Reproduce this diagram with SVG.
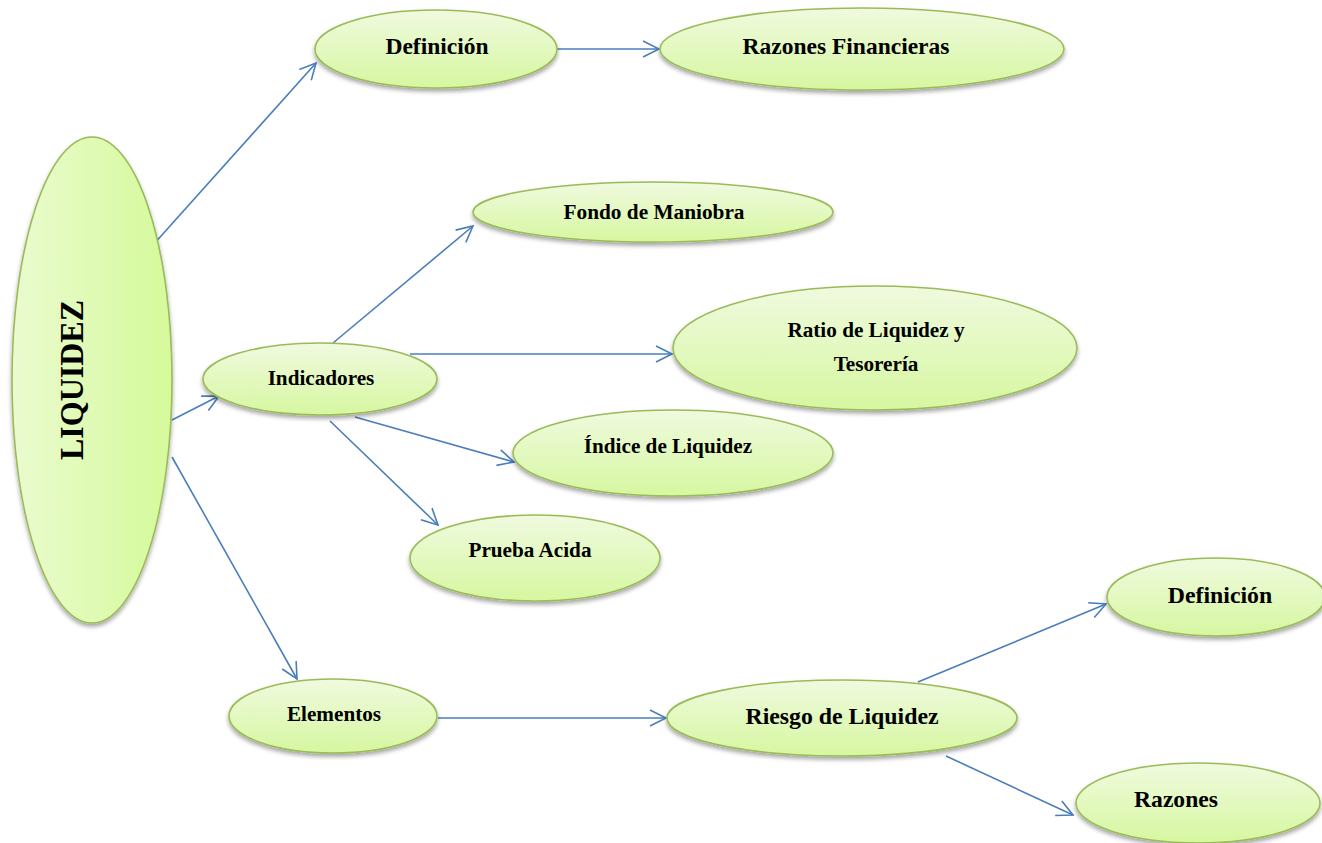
<svg xmlns="http://www.w3.org/2000/svg" width="1322" height="843" viewBox="0 0 1322 843">
  <defs>
    <linearGradient id="fillV" x1="0" y1="0" x2="0" y2="1">
      <stop offset="0" stop-color="#f0fadf"/>
      <stop offset="1" stop-color="#d6f7a0"/>
    </linearGradient>
    <linearGradient id="fillH" x1="0" y1="0" x2="1" y2="0">
      <stop offset="0" stop-color="#eafbcf"/>
      <stop offset="1" stop-color="#d5fa9a"/>
    </linearGradient>
    <filter id="shadow" x="-10%" y="-20%" width="120%" height="150%">
      <feDropShadow dx="0" dy="3" stdDeviation="2.2" flood-color="#000" flood-opacity="0.35"/>
    </filter>
    <marker id="arrow" markerUnits="userSpaceOnUse" markerWidth="20" markerHeight="20" refX="17" refY="9" orient="auto">
      <path d="M1,1 L17,9 L1,17" fill="none" stroke="#4a7ebb" stroke-width="1.6"/>
    </marker>
    <style>
      .node { fill: url(#fillV); stroke: #9bbb59; stroke-width: 1.6; filter: url(#shadow); }
      .label { font-family: "Liberation Serif", "Times New Roman", serif; font-weight: bold; fill: #000; text-anchor: middle; }
      .edge { stroke: #4a7ebb; stroke-width: 1.6; fill: none; marker-end: url(#arrow); }
    </style>
  </defs>

  <!-- connectors -->
  <g id="connectors">
    <line class="edge" x1="153" y1="245" x2="316" y2="63"/>
    <line class="edge" x1="557" y1="49" x2="659" y2="49"/>
    <line class="edge" x1="172" y1="420" x2="219" y2="396"/>
    <line class="edge" x1="172" y1="457" x2="297" y2="679"/>
    <line class="edge" x1="333" y1="343" x2="473" y2="226"/>
    <line class="edge" x1="410" y1="354" x2="672" y2="354"/>
    <line class="edge" x1="355" y1="417" x2="514" y2="462"/>
    <line class="edge" x1="330" y1="421" x2="438" y2="525"/>
    <line class="edge" x1="438" y1="718" x2="666" y2="718"/>
    <line class="edge" x1="918" y1="682" x2="1106" y2="604"/>
    <line class="edge" x1="946" y1="756" x2="1073" y2="815"/>
  </g>

  <!-- root node -->
  <g id="liquidez">
    <ellipse cx="92" cy="380" rx="80" ry="243" fill="url(#fillH)" stroke="#9bbb59" stroke-width="1.6" filter="url(#shadow)"/>
    <text class="label" transform="translate(83,380) rotate(-90)" font-size="34" textLength="160" lengthAdjust="spacingAndGlyphs">LIQUIDEZ</text>
  </g>

  <g id="definicion-top">
    <ellipse class="node" cx="436" cy="49" rx="121" ry="39"/>
    <text class="label" x="437" y="54" font-size="23.5">Definición</text>
  </g>

  <g id="razones-financieras">
    <ellipse class="node" cx="862" cy="49" rx="202" ry="41"/>
    <text class="label" x="846" y="54" font-size="23.5">Razones Financieras</text>
  </g>

  <g id="fondo-maniobra">
    <ellipse class="node" cx="653" cy="212" rx="180" ry="30"/>
    <text class="label" x="654" y="219" font-size="21.3">Fondo de Maniobra</text>
  </g>

  <g id="ratio-liquidez">
    <ellipse class="node" cx="875" cy="348" rx="202" ry="62"/>
    <text class="label" x="876" y="337" font-size="21.2">Ratio de Liquidez y</text>
    <text class="label" x="876" y="371" font-size="21.2">Tesorería</text>
  </g>

  <g id="indicadores">
    <ellipse class="node" cx="320" cy="379" rx="117" ry="36"/>
    <text class="label" x="321" y="385" font-size="21.2">Indicadores</text>
  </g>

  <g id="indice-liquidez">
    <ellipse class="node" cx="673" cy="453" rx="160" ry="43"/>
    <text class="label" x="668" y="453" font-size="21.2">Índice de Liquidez</text>
  </g>

  <g id="prueba-acida">
    <ellipse class="node" cx="535" cy="558" rx="125" ry="43"/>
    <text class="label" x="530" y="557" font-size="21.2">Prueba Acida</text>
  </g>

  <g id="elementos">
    <ellipse class="node" cx="333" cy="716" rx="104" ry="37"/>
    <text class="label" x="334" y="721" font-size="21.2">Elementos</text>
  </g>

  <g id="riesgo-liquidez">
    <ellipse class="node" cx="842" cy="718" rx="175" ry="38"/>
    <text class="label" x="842" y="724" font-size="23.8">Riesgo de Liquidez</text>
  </g>

  <g id="definicion-right">
    <ellipse class="node" cx="1216" cy="597" rx="109" ry="39"/>
    <text class="label" x="1220" y="603" font-size="23.8">Definición</text>
  </g>

  <g id="razones">
    <ellipse class="node" cx="1198" cy="803" rx="122" ry="40"/>
    <text class="label" x="1176" y="807" font-size="23.6">Razones</text>
  </g>
</svg>
